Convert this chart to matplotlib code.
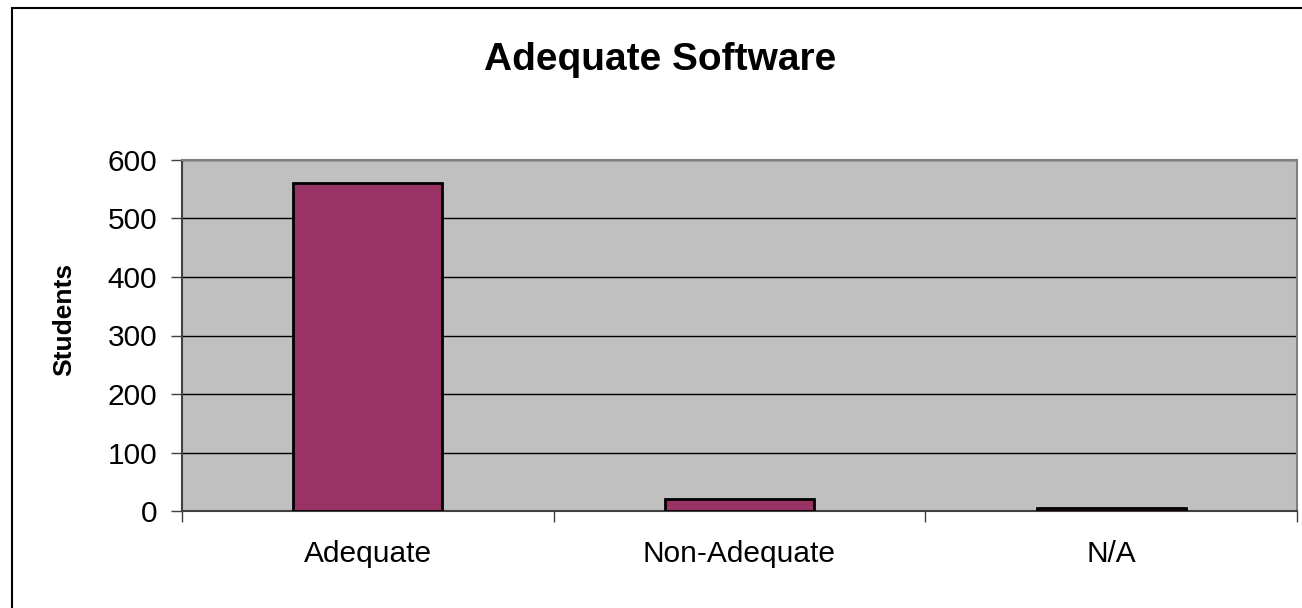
import matplotlib
matplotlib.use("Agg")
import matplotlib.pyplot as plt
from matplotlib.patches import Rectangle

categories = ["Adequate", "Non-Adequate", "N/A"]
students = [560, 20, 5]
y_ticks = [0, 100, 200, 300, 400, 500, 600]

plt.rcParams["font.family"] = ["Liberation Sans", "DejaVu Sans"]

W, H = 1302, 608
fig = plt.figure(figsize=(W / 100, H / 100), dpi=100)
fig.patch.set_facecolor("white")

# outer chart frame (runs off the right and bottom edges)
fig.add_artist(Rectangle((11.5 / W, -0.05), 1.2, 1 - 7.5 / H + 0.05,
                         transform=fig.transFigure, fill=False,
                         edgecolor="black", linewidth=1.5))

left, right, top, bottom = 182, 1297, 160, 511
ax = fig.add_axes([left / W, 1 - bottom / H, (right - left) / W, (bottom - top) / H])
ax.set_facecolor("#C0C0C0")

x = list(range(len(categories)))
ax.bar(x, students, width=0.4, color="#993366", edgecolor="black",
       linewidth=2, zorder=3)

ax.set_xlim(-0.5, len(categories) - 0.5)
ax.set_ylim(0, 600)
ax.set_yticks(y_ticks)
ax.set_yticklabels([str(v) for v in y_ticks], fontsize=21.5)
ax.yaxis.grid(True, color="black", linewidth=1, zorder=1)
ax.set_axisbelow(True)

# category labels centred, tick marks on the boundaries
ax.set_xticks(x)
ax.set_xticklabels(categories, fontsize=21.5)
ax.tick_params(axis="x", length=0, pad=21)
ax.set_xticks([i - 0.5 for i in range(len(categories) + 1)], minor=True)
ax.tick_params(axis="x", which="minor", length=8, width=1, color="#404040",
               direction="out")
ax.tick_params(axis="y", length=8, width=1, color="#404040", pad=10)

for s in ["top", "right"]:
    ax.spines[s].set_color("#808080")
    ax.spines[s].set_linewidth(1.5)
for s in ["left", "bottom"]:
    ax.spines[s].set_color("#404040")
    ax.spines[s].set_linewidth(1.5)

fig.text(64 / W, 1 - 319 / H, "Students", rotation=90, ha="center",
         va="center", fontsize=19, fontweight="bold")
fig.text(660 / W, 1 - 60 / H, "Adequate Software",
         ha="center", va="center", fontsize=28, fontweight="bold")

fig.savefig("out.png", dpi=100)
